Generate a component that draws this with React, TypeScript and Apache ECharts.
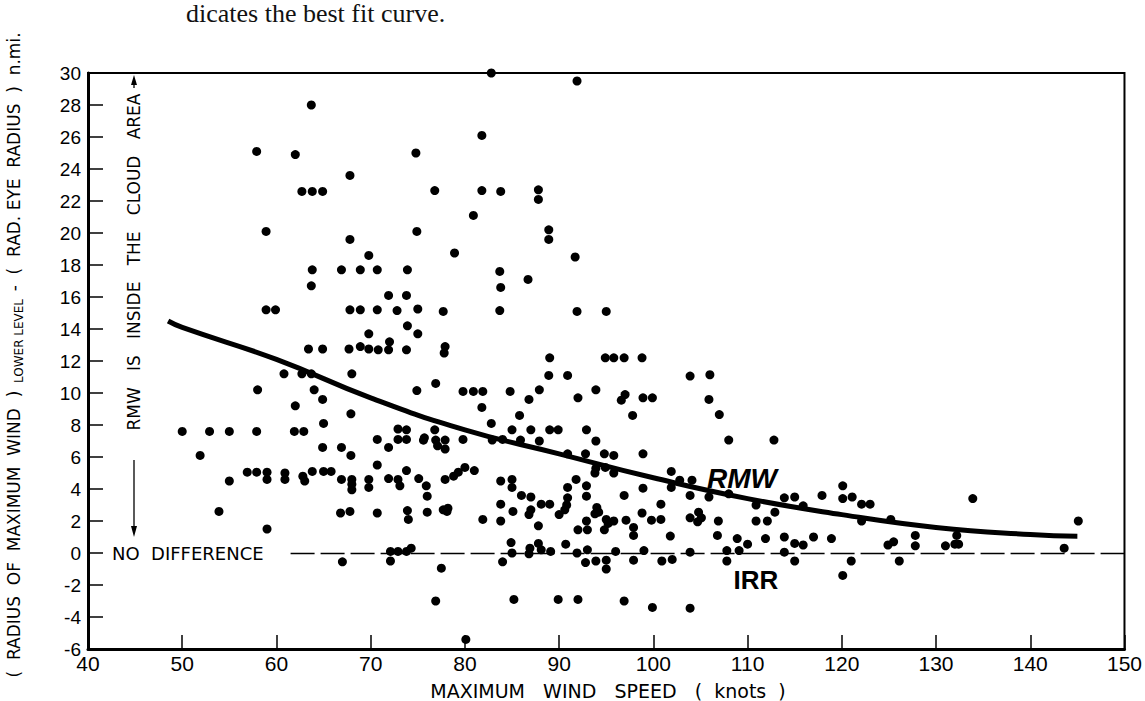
import React, { useEffect, useRef } from "react";
import * as echarts from "echarts";

// ---- data (wind speed in knots, difference in n.mi.) ----
const pointsBelow60: [number, number][] = [
  [50.0, 7.6], [51.9, 6.1], [52.9, 7.6], [53.9, 2.6], [55.0, 7.6], [55.0, 4.5],
  [56.9, 5.05], [57.9, 5.05], [57.9, 7.6], [58.0, 10.2], [57.9, 25.1], [58.9, 20.1],
  [58.9, 15.2], [59.9, 15.2], [59.0, 5.05], [59.0, 4.6], [59.0, 1.5],
];
const points60to70: [number, number][] = [
  [60.8, 11.2], [60.9, 5.0], [60.9, 4.6], [61.9, 7.6], [62.0, 9.2], [62.0, 24.9],
  [62.7, 11.2], [62.7, 22.6], [62.8, 4.8], [63.0, 4.5], [62.9, 7.6], [63.7, 28.0],
  [63.7, 11.2], [63.8, 22.6], [64.9, 22.6], [63.8, 17.7], [63.7, 16.7], [63.4, 12.75],
  [64.0, 10.2], [63.8, 5.1], [64.9, 12.75], [64.9, 9.6], [65.0, 8.1], [64.9, 6.6],
  [65.0, 5.1], [65.8, 5.1], [66.9, 17.7], [66.9, 6.6], [66.9, 4.6], [66.8, 2.5],
  [67.0, -0.55], [67.8, 23.6], [67.8, 19.6], [67.8, 15.2], [67.7, 12.75], [68.0, 11.2],
  [67.9, 8.7], [67.9, 6.1], [68.0, 4.6], [68.0, 4.3], [68.0, 3.95], [67.8, 2.6],
  [68.9, 17.7], [68.9, 15.2], [68.9, 12.9], [69.8, 18.6], [69.8, 13.7], [69.8, 12.75],
  [69.8, 4.6], [69.8, 4.1],
];
const points70to80: [number, number][] = [
  [70.7, 17.7], [70.7, 15.2], [70.8, 12.7], [70.7, 7.1], [70.7, 5.5], [70.7, 2.5],
  [71.9, 16.1], [72.0, 13.2], [71.9, 12.7], [71.9, 6.6], [71.9, 4.65], [72.1, 0.1],
  [72.1, -0.5], [72.8, 15.15], [72.9, 7.75], [72.9, 7.1], [72.9, 4.6], [73.1, 4.2],
  [72.9, 0.1], [73.9, 17.7], [73.8, 16.1], [73.9, 14.2], [73.8, 12.7], [73.8, 7.7],
  [73.8, 7.1], [73.8, 5.15], [73.9, 2.65], [74.0, 2.1], [73.8, 0.1], [74.3, 0.3],
  [74.8, 25.0], [74.9, 20.1], [75.0, 15.25], [75.0, 13.7], [74.9, 10.15], [75.1, 4.65],
  [75.7, 7.2], [75.6, 7.05], [75.9, 4.2], [76.0, 3.55], [76.0, 2.55], [76.8, 22.65],
  [76.9, 10.6], [76.8, 7.7], [76.9, 7.06], [77.1, 6.7], [77.5, -0.95], [76.9, -3.0],
  [77.7, 15.1], [77.9, 12.9], [77.8, 12.5], [77.9, 7.06], [77.9, 6.5], [77.9, 4.6],
  [77.7, 2.7], [78.2, 2.8], [78.1, 2.6], [78.9, 18.75], [78.8, 4.8], [79.3, 5.05],
  [79.8, 10.1], [79.8, 7.1],
];
const points80to90: [number, number][] = [
  [80.0, 5.35], [80.1, -5.4], [80.9, 21.1], [80.9, 10.1], [81.0, 5.15], [81.8, 26.1],
  [81.8, 22.65], [81.9, 10.1], [81.8, 9.1], [81.9, 2.1], [82.8, 30.0], [82.8, 8.1],
  [82.9, 7.06], [83.8, 22.6], [83.7, 17.6], [83.8, 16.6], [83.7, 15.15], [84.0, 7.1],
  [83.8, 4.5], [83.8, 3.05], [83.8, 2.0], [84.0, -0.55], [84.8, 10.1], [85.0, 7.7],
  [85.0, 4.6], [85.0, 4.1], [85.1, 2.6], [84.9, 0.65], [85.0, 0.0], [85.2, -2.9],
  [85.8, 8.6], [85.9, 7.06], [86.0, 3.6], [86.7, 17.1], [86.8, 9.6], [87.0, 7.7],
  [87.0, 3.5], [87.0, 2.7], [86.8, 2.4], [86.9, 0.3], [86.8, -0.05], [87.8, 22.7],
  [87.8, 22.1], [87.9, 10.2], [87.9, 7.0], [88.1, 3.05], [87.8, 1.7], [87.8, 0.6],
  [88.1, 0.2], [88.9, 20.2], [88.9, 19.6], [89.0, 12.2], [88.9, 11.1], [89.0, 7.7],
  [89.0, 3.05], [89.1, 0.1], [89.9, 7.7], [89.9, -2.9], [90.0, 2.4],
];
const points90to100: [number, number][] = [
  [90.9, 11.1], [90.9, 6.2], [90.9, 4.1], [90.9, 3.45], [90.8, 3.0], [90.6, 2.7],
  [90.7, 0.55], [91.9, 29.5], [91.7, 18.5], [91.9, 15.1], [92.0, 9.7], [91.8, 4.6],
  [92.0, 1.45], [91.9, 0.0], [92.0, -2.9], [92.8, 6.2], [92.9, 7.7], [92.9, 4.2],
  [92.9, 3.55], [92.9, 2.0], [93.0, 1.45], [93.0, 0.2], [92.8, -0.6], [93.9, 10.2],
  [93.9, 7.0], [93.9, 5.3], [93.8, 5.0], [94.0, 2.85], [94.2, 2.55], [93.8, 2.45],
  [93.9, -0.5], [94.9, 12.2], [95.0, 15.1], [94.8, 6.2], [94.9, 5.35], [95.0, 2.1],
  [95.2, 1.85], [94.8, 1.45], [95.0, -0.45], [95.0, -1.0], [95.8, 12.2], [95.8, 6.1],
  [95.8, 5.0], [95.8, 2.0], [96.0, 0.1], [96.9, 12.2], [97.0, 9.9], [96.6, 9.55],
  [96.9, 3.6], [97.1, 2.05], [96.9, -3.0], [97.8, 8.6], [97.9, 1.6], [97.9, 1.1],
  [97.9, -0.45], [98.8, 12.2], [98.9, 9.7], [98.9, 6.2], [98.9, 4.05], [98.8, 2.5],
  [99.0, 0.15], [99.9, 9.7], [99.8, 2.05], [99.9, -3.4],
];
const pointsAbove100: [number, number][] = [
  [100.8, 3.05], [100.8, 2.1], [100.9, -0.5], [101.9, 5.1], [101.9, 4.1], [101.8, 1.06],
  [102.0, -0.4], [102.8, 4.55], [103.9, 11.06], [104.1, 4.55], [103.9, 3.6], [103.9, 2.2],
  [103.9, 0.05], [103.9, -3.45], [104.8, 2.55], [104.7, 1.95], [105.1, 2.2], [106.0, 11.14],
  [105.9, 9.6], [105.9, 3.5], [107.0, 8.65], [106.9, 2.0], [106.8, 1.1], [108.0, 7.06],
  [108.0, 3.7], [107.8, 0.15], [107.8, -0.5], [108.9, 0.9], [109.1, 0.15], [110.0, 0.55],
  [110.9, 3.0], [110.9, 2.0], [112.1, 2.0], [111.9, 0.9], [112.8, 7.06], [112.9, 2.55],
  [113.9, 3.45], [113.9, 1.0], [113.9, 0.05], [115.0, 3.5], [115.0, 0.6], [115.0, -0.5],
  [115.9, 2.95], [115.9, 0.5], [117.0, 1.0], [117.9, 3.6], [118.9, 0.9], [120.1, 4.2],
  [120.1, 3.4], [120.1, -1.4], [121.1, 3.5], [121.0, -0.5], [122.1, 3.05], [122.1, 2.0],
  [123.0, 3.05], [125.2, 2.1], [124.9, 0.5], [125.5, 0.7], [126.1, -0.5], [127.8, 1.1],
  [127.8, 0.45], [131.0, 0.45], [132.0, 0.55], [132.4, 0.55], [132.2, 1.1], [133.9, 3.4],
  [143.6, 0.3], [145.1, 2.0],
];
// best fit curve (RMW)
const fitSpeed = [48.5, 50, 60, 70, 80, 90, 100, 110, 120, 130, 140, 145];
const fitValue = [14.5, 14.1, 12.1, 9.7, 7.7, 6.2, 4.7, 3.4, 2.4, 1.6, 1.15, 1.05];

const X_MIN = 40, X_MAX = 150, X_STEP = 10;
const Y_MIN = -6, Y_MAX = 30, Y_STEP = 2;

const SANS = "'DejaVu Sans', 'Liberation Sans', Arial, sans-serif";
const LSANS = "'Liberation Sans', Arial, sans-serif";

export default function App() {
  const ref = useRef<HTMLDivElement>(null);
  useEffect(() => {
    if (!ref.current) return;
    const chart = echarts.init(ref.current, undefined, { renderer: "svg" });
    const allPoints = [
      ...pointsBelow60, ...points60to70, ...points70to80,
      ...points80to90, ...points90to100, ...pointsAbove100,
    ];
    const fit = fitSpeed.map((s, i) => [s, fitValue[i]]);
    chart.setOption({
      animation: false,
      backgroundColor: "#fff",
      grid: {
        left: 88, right: 18, top: 73, bottom: 52,
        show: true, borderColor: "#000", borderWidth: 2, backgroundColor: "transparent",
      },
      xAxis: {
        type: "value", min: X_MIN, max: X_MAX, interval: X_STEP,
        axisLine: { show: true, onZero: false, lineStyle: { color: "#000", width: 3 } },
        axisTick: { show: true, inside: true, length: 14, lineStyle: { color: "#000", width: 1.5 } },
        axisLabel: { color: "#000", fontSize: 21, fontFamily: LSANS, margin: 4 },
        splitLine: { show: false },
      },
      yAxis: {
        type: "value", min: Y_MIN, max: Y_MAX, interval: Y_STEP,
        axisLine: { show: true, onZero: false, lineStyle: { color: "#000", width: 3 } },
        axisTick: { show: true, inside: true, length: 15, lineStyle: { color: "#000", width: 1.5 } },
        axisLabel: { color: "#000", fontSize: 19, fontFamily: LSANS, margin: 7 },
        splitLine: { show: false },
      },
      series: [
        {
          type: "scatter",
          data: allPoints,
          symbol: "circle",
          symbolSize: 9,
          itemStyle: { color: "#000", opacity: 1 },
          markLine: {
            silent: true,
            symbol: "none",
            label: { show: false },
            lineStyle: { color: "#000", width: 1.3, type: [24, 6], opacity: 1 },
            data: [[{ coord: [61.5, 0] }, { coord: [X_MAX, 0] }]],
          },
        },
        {
          type: "line",
          data: fit,
          smooth: true,
          showSymbol: false,
          lineStyle: { color: "#000", width: 5 },
        },
      ],
      graphic: [
        {
          type: "text", left: 186, top: 0,
          style: { text: "dicates the best fit curve.", font: "26px 'Liberation Serif', serif", fill: "#111" },
        },
        {
          type: "text", x: 14, y: 355, rotation: Math.PI / 2,
          style: {
            text: "{a|(  RADIUS  OF  MAXIMUM  WIND  )}{s|  LOWER LEVEL  }{a|-  (  RAD. EYE  RADIUS  )  n.mi.}",
            align: "center", verticalAlign: "middle",
            rich: {
              a: { fontSize: 17, fontFamily: SANS, fill: "#000", lineHeight: 22, verticalAlign: "middle" },
              s: { fontSize: 12, fontFamily: SANS, fill: "#000", lineHeight: 22, verticalAlign: "bottom" },
            },
          },
        },
        {
          type: "text", x: 608, y: 691,
          style: {
            text: "MAXIMUM   WIND   SPEED   (  knots  )", align: "center", verticalAlign: "middle",
            fontSize: 19, fontFamily: SANS, fill: "#000",
          },
        },
        {
          type: "text", x: 134, y: 262, rotation: Math.PI / 2,
          style: {
            text: "RMW   IS   INSIDE   THE   CLOUD   AREA", align: "center", verticalAlign: "middle",
            fontSize: 17, fontFamily: SANS, fill: "#000",
          },
        },
        { type: "line", shape: { x1: 134, y1: 88, x2: 134, y2: 78 }, style: { stroke: "#000", lineWidth: 1.3 } },
        { type: "polygon", shape: { points: [[134, 75], [131, 85], [137, 85]] }, style: { fill: "#000" } },
        { type: "line", shape: { x1: 134, y1: 460, x2: 134, y2: 530 }, style: { stroke: "#000", lineWidth: 1.3 } },
        { type: "polygon", shape: { points: [[134, 537], [131, 526], [137, 526]] }, style: { fill: "#000" } },
        {
          type: "text", x: 112, y: 553,
          style: { text: "NO  DIFFERENCE", align: "left", verticalAlign: "middle", fontSize: 18, fontFamily: SANS, fill: "#000" },
        },
        {
          type: "text", x: 742, y: 478,
          style: {
            text: "RMW", align: "center", verticalAlign: "middle",
            font: "italic bold 28px 'Liberation Sans', Arial, sans-serif", fill: "#000",
          },
        },
        {
          type: "text", x: 756, y: 580,
          style: {
            text: "IRR", align: "center", verticalAlign: "middle",
            font: "bold 26px 'Liberation Sans', Arial, sans-serif", fill: "#000",
          },
        },
      ],
    });
    return () => chart.dispose();
  }, []);
  return (
    <div
      ref={ref}
      style={{ position: "fixed", left: 0, top: 0, width: 1145, height: 701, background: "#fff" }}
    />
  );
}
